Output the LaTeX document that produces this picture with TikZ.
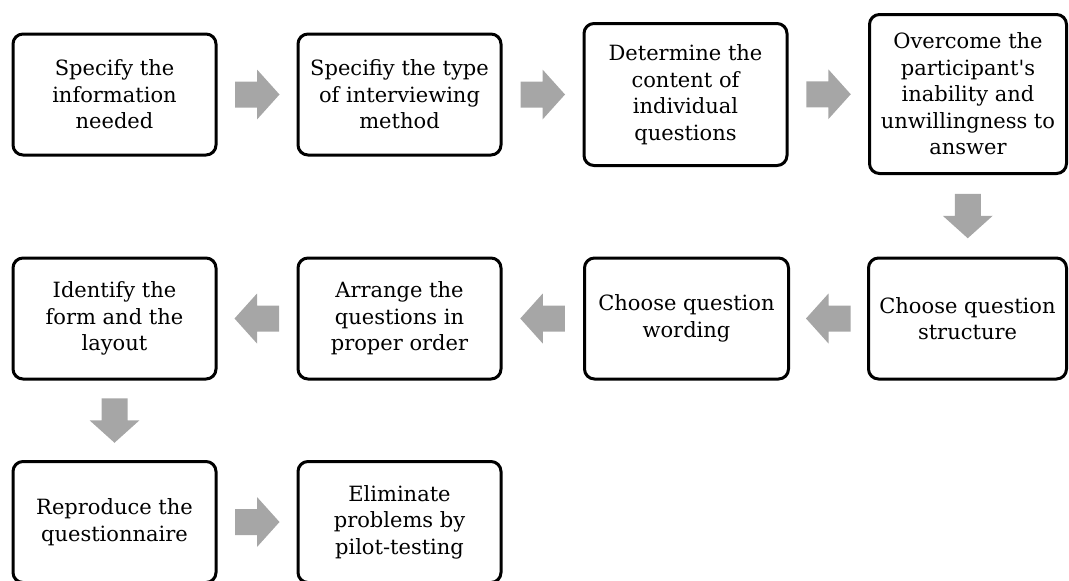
\documentclass[tikz,border=0pt]{standalone}
\usepackage{fontspec}
\setmainfont{DejaVu Serif}
\usetikzlibrary{calc}

\definecolor{arrowgray}{RGB}{166,166,166}

\tikzset{
  stepbox/.style={draw=black, line width=3pt, rounded corners=10pt, fill=white,
    align=center, inner sep=0pt, minimum width=203pt, minimum height=121pt,
    font=\fontsize{21}{26.5}\selectfont},
  flowarrow/.style={fill=arrowgray, draw=none}
}

% block arrow centred at #1, pointing in canvas direction #2 (degrees)
\newcommand\blockarrow[2]{%
  \fill[flowarrow, shift={#1}, rotate=#2]
    (-22,-13) -- (0,-13) -- (0,-25) -- (22.5,0) -- (0,25) -- (0,13) -- (-22,13) -- cycle;}

\begin{document}
\begin{tikzpicture}[x=1pt, y=-1pt]
  \useasboundingbox (0,0) rectangle (1069,581);

  % first row
  \node[stepbox] (b1) at (114.5,94.5) {Specify the\\information\\needed};
  \node[stepbox] (b2) at (399.5,94.5) {Specifiy the type\\of interviewing\\method};
  \node[stepbox, minimum height=142pt] (b3) at (685.5,94.5)
    {Determine the\\content of\\individual\\questions};
  \node[stepbox, minimum width=197pt, minimum height=159pt] (b4) at (968,94)
    {Overcome the\\participant\textquotesingle s\\inability and\\unwillingness to\\answer};

  % second row
  \node[stepbox, minimum width=198pt] (b5) at (967.5,318.5) {Choose question\\structure};
  \node[stepbox, minimum width=204pt] (b6) at (686.5,318.5) {Choose question\\wording};
  \node[stepbox] (b7) at (399.5,318.5) {Arrange the\\questions in\\proper order};
  \node[stepbox] (b8) at (114.5,318.5) {Identify the\\form and the\\layout};

  % third row
  \node[stepbox] (b9) at (114.5,522) {Reproduce the\\questionnaire};
  \node[stepbox] (b10) at (399.5,522) {Eliminate\\problems by\\pilot-testing};

  % arrows between the steps
  \blockarrow{($(b1.east)!0.5!(b2.west)$)}{0}
  \blockarrow{($(b2.east)!0.5!(b3.west)$)}{0}
  \blockarrow{($(b3.east)!0.5!(b4.west)$)}{0}
  \blockarrow{($(b4.south)!0.5!(b5.north)$)}{-90}
  \blockarrow{($(b5.west)!0.5!(b6.east)$)}{180}
  \blockarrow{($(b6.west)!0.5!(b7.east)$)}{180}
  \blockarrow{($(b7.west)!0.5!(b8.east)$)}{180}
  \blockarrow{($(b8.south)!0.5!(b9.north)$)}{-90}
  \blockarrow{($(b9.east)!0.5!(b10.west)$)}{0}
\end{tikzpicture}
\end{document}
